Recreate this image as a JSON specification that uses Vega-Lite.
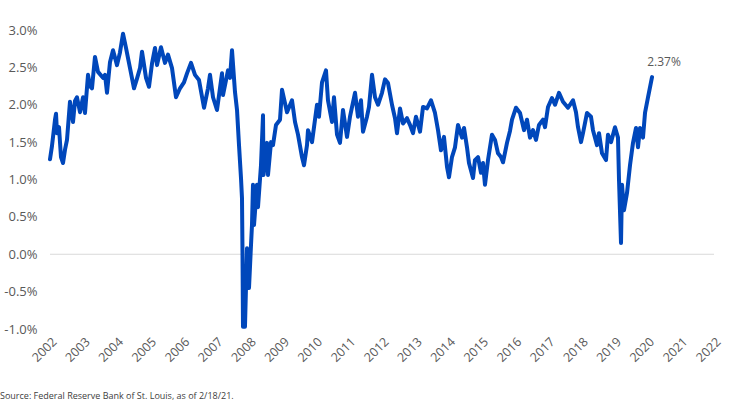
{
  "$schema": "https://vega.github.io/schema/vega-lite/v6.json",
  "autosize": {"type": "none"},
  "padding": {"left": 50, "top": 30, "right": 36, "bottom": 72},
  "width": 664,
  "height": 299,
  "background": "white",
  "config": {"view": {"stroke": null}, "font": "Open Sans", "axis": {"labelOverlap": false, "labelFlush": false, "labelBound": false}},
  "title": {
    "text": "Source: Federal Reserve Bank of St. Louis, as of 2/18/21.",
    "orient": "bottom",
    "anchor": "start",
    "frame": "group",
    "dx": -50,
    "offset": 28,
    "fontSize": 9,
    "fontWeight": "normal",
    "font": "Open Sans",
    "color": "#404040"
  },
  "datasets": {
    "series": [
      {"t": 2002.000, "v": 1.27}, {"t": 2002.060, "v": 1.45}, {"t": 2002.151, "v": 1.80}, {"t": 2002.181, "v": 1.88},
      {"t": 2002.211, "v": 1.62}, {"t": 2002.271, "v": 1.70}, {"t": 2002.331, "v": 1.30}, {"t": 2002.392, "v": 1.22},
      {"t": 2002.452, "v": 1.40}, {"t": 2002.512, "v": 1.53}, {"t": 2002.602, "v": 2.04}, {"t": 2002.693, "v": 1.77},
      {"t": 2002.753, "v": 2.05}, {"t": 2002.813, "v": 2.10}, {"t": 2002.904, "v": 1.90}, {"t": 2002.994, "v": 2.10},
      {"t": 2003.054, "v": 1.89}, {"t": 2003.145, "v": 2.40}, {"t": 2003.205, "v": 2.25}, {"t": 2003.265, "v": 2.22},
      {"t": 2003.355, "v": 2.64}, {"t": 2003.446, "v": 2.44}, {"t": 2003.596, "v": 2.36}, {"t": 2003.657, "v": 2.40},
      {"t": 2003.717, "v": 2.16}, {"t": 2003.807, "v": 2.57}, {"t": 2003.898, "v": 2.73}, {"t": 2004.018, "v": 2.53},
      {"t": 2004.108, "v": 2.70}, {"t": 2004.199, "v": 2.95}, {"t": 2004.289, "v": 2.76}, {"t": 2004.410, "v": 2.49},
      {"t": 2004.530, "v": 2.22}, {"t": 2004.620, "v": 2.35}, {"t": 2004.711, "v": 2.49}, {"t": 2004.771, "v": 2.71},
      {"t": 2004.892, "v": 2.36}, {"t": 2004.982, "v": 2.24}, {"t": 2005.072, "v": 2.55}, {"t": 2005.163, "v": 2.76},
      {"t": 2005.223, "v": 2.53}, {"t": 2005.343, "v": 2.77}, {"t": 2005.464, "v": 2.56}, {"t": 2005.554, "v": 2.67},
      {"t": 2005.675, "v": 2.49}, {"t": 2005.795, "v": 2.10}, {"t": 2005.916, "v": 2.22}, {"t": 2006.036, "v": 2.30},
      {"t": 2006.127, "v": 2.42}, {"t": 2006.247, "v": 2.56}, {"t": 2006.367, "v": 2.40}, {"t": 2006.488, "v": 2.33},
      {"t": 2006.639, "v": 1.96}, {"t": 2006.759, "v": 2.22}, {"t": 2006.819, "v": 2.40}, {"t": 2006.910, "v": 2.10},
      {"t": 2007.030, "v": 1.93}, {"t": 2007.181, "v": 2.42}, {"t": 2007.211, "v": 2.13}, {"t": 2007.361, "v": 2.46},
      {"t": 2007.422, "v": 2.36}, {"t": 2007.482, "v": 2.73}, {"t": 2007.572, "v": 2.17}, {"t": 2007.633, "v": 1.93},
      {"t": 2007.693, "v": 1.46}, {"t": 2007.753, "v": 1.02}, {"t": 2007.783, "v": 0.75}, {"t": 2007.798, "v": 0.03},
      {"t": 2007.813, "v": -0.97}, {"t": 2007.873, "v": -0.97}, {"t": 2007.934, "v": 0.08}, {"t": 2007.994, "v": -0.45},
      {"t": 2008.054, "v": 0.12}, {"t": 2008.084, "v": 0.39}, {"t": 2008.114, "v": 0.93}, {"t": 2008.145, "v": 0.39},
      {"t": 2008.235, "v": 0.93}, {"t": 2008.265, "v": 0.63}, {"t": 2008.355, "v": 1.19}, {"t": 2008.416, "v": 1.86},
      {"t": 2008.431, "v": 1.06}, {"t": 2008.536, "v": 1.49}, {"t": 2008.566, "v": 1.06}, {"t": 2008.657, "v": 1.50},
      {"t": 2008.717, "v": 1.46}, {"t": 2008.807, "v": 1.73}, {"t": 2008.928, "v": 1.80}, {"t": 2008.988, "v": 2.20},
      {"t": 2009.139, "v": 1.90}, {"t": 2009.289, "v": 2.06}, {"t": 2009.380, "v": 1.77}, {"t": 2009.470, "v": 1.60},
      {"t": 2009.590, "v": 1.30}, {"t": 2009.651, "v": 1.19}, {"t": 2009.741, "v": 1.46}, {"t": 2009.771, "v": 1.66},
      {"t": 2009.892, "v": 1.50}, {"t": 2010.042, "v": 2.00}, {"t": 2010.102, "v": 1.84}, {"t": 2010.193, "v": 2.30},
      {"t": 2010.313, "v": 2.46}, {"t": 2010.373, "v": 2.06}, {"t": 2010.494, "v": 1.77}, {"t": 2010.554, "v": 2.10},
      {"t": 2010.645, "v": 1.60}, {"t": 2010.735, "v": 1.49}, {"t": 2010.825, "v": 1.93}, {"t": 2010.946, "v": 1.57},
      {"t": 2011.036, "v": 1.84}, {"t": 2011.187, "v": 2.16}, {"t": 2011.277, "v": 1.84}, {"t": 2011.367, "v": 2.06},
      {"t": 2011.428, "v": 1.64}, {"t": 2011.548, "v": 1.84}, {"t": 2011.608, "v": 1.97}, {"t": 2011.699, "v": 2.40},
      {"t": 2011.789, "v": 2.10}, {"t": 2011.880, "v": 2.00}, {"t": 2012.000, "v": 2.16}, {"t": 2012.090, "v": 2.34},
      {"t": 2012.181, "v": 2.29}, {"t": 2012.301, "v": 2.00}, {"t": 2012.392, "v": 1.82}, {"t": 2012.452, "v": 1.62},
      {"t": 2012.542, "v": 1.95}, {"t": 2012.633, "v": 1.75}, {"t": 2012.753, "v": 1.82}, {"t": 2012.843, "v": 1.73},
      {"t": 2012.934, "v": 1.62}, {"t": 2013.024, "v": 1.84}, {"t": 2013.145, "v": 1.64}, {"t": 2013.235, "v": 1.97},
      {"t": 2013.355, "v": 1.95}, {"t": 2013.476, "v": 2.06}, {"t": 2013.596, "v": 1.89}, {"t": 2013.687, "v": 1.66},
      {"t": 2013.777, "v": 1.39}, {"t": 2013.867, "v": 1.57}, {"t": 2013.958, "v": 1.17}, {"t": 2014.018, "v": 1.03},
      {"t": 2014.108, "v": 1.30}, {"t": 2014.199, "v": 1.43}, {"t": 2014.289, "v": 1.73}, {"t": 2014.410, "v": 1.56},
      {"t": 2014.470, "v": 1.69}, {"t": 2014.560, "v": 1.43}, {"t": 2014.620, "v": 1.22}, {"t": 2014.741, "v": 1.02},
      {"t": 2014.801, "v": 1.26}, {"t": 2014.892, "v": 1.30}, {"t": 2014.982, "v": 1.09}, {"t": 2015.042, "v": 1.22},
      {"t": 2015.102, "v": 0.93}, {"t": 2015.193, "v": 1.26}, {"t": 2015.313, "v": 1.60}, {"t": 2015.404, "v": 1.53},
      {"t": 2015.494, "v": 1.35}, {"t": 2015.584, "v": 1.30}, {"t": 2015.645, "v": 1.23}, {"t": 2015.765, "v": 1.49},
      {"t": 2015.855, "v": 1.65}, {"t": 2015.916, "v": 1.80}, {"t": 2016.036, "v": 1.96}, {"t": 2016.157, "v": 1.89},
      {"t": 2016.277, "v": 1.66}, {"t": 2016.367, "v": 1.80}, {"t": 2016.458, "v": 1.56}, {"t": 2016.548, "v": 1.66},
      {"t": 2016.639, "v": 1.53}, {"t": 2016.729, "v": 1.73}, {"t": 2016.849, "v": 1.80}, {"t": 2016.910, "v": 1.70},
      {"t": 2017.000, "v": 1.97}, {"t": 2017.120, "v": 2.09}, {"t": 2017.211, "v": 2.00}, {"t": 2017.331, "v": 2.16},
      {"t": 2017.452, "v": 2.04}, {"t": 2017.602, "v": 1.96}, {"t": 2017.753, "v": 2.06}, {"t": 2017.843, "v": 1.90},
      {"t": 2017.904, "v": 1.70}, {"t": 2017.994, "v": 1.50}, {"t": 2018.054, "v": 1.62}, {"t": 2018.175, "v": 1.89},
      {"t": 2018.295, "v": 1.84}, {"t": 2018.355, "v": 1.66}, {"t": 2018.476, "v": 1.46}, {"t": 2018.536, "v": 1.62},
      {"t": 2018.627, "v": 1.35}, {"t": 2018.747, "v": 1.26}, {"t": 2018.807, "v": 1.60}, {"t": 2018.898, "v": 1.50},
      {"t": 2019.018, "v": 1.70}, {"t": 2019.108, "v": 1.56}, {"t": 2019.139, "v": 0.99}, {"t": 2019.199, "v": 0.15},
      {"t": 2019.229, "v": 0.93}, {"t": 2019.289, "v": 0.59}, {"t": 2019.380, "v": 0.82}, {"t": 2019.470, "v": 1.19},
      {"t": 2019.560, "v": 1.49}, {"t": 2019.651, "v": 1.69}, {"t": 2019.711, "v": 1.43}, {"t": 2019.771, "v": 1.69},
      {"t": 2019.861, "v": 1.56}, {"t": 2019.922, "v": 1.89}, {"t": 2020.012, "v": 2.10}, {"t": 2020.133, "v": 2.37}
    ],
    "zero": [{"v": 0}],
    "last": [{"t": 2020.133, "v": 2.37, "label": "2.37%"}]
  },
  "layer": [
    {
      "data": {"name": "zero"},
      "mark": {"type": "rule", "color": "#d9d9d9", "strokeWidth": 1},
      "encoding": {"y": {"field": "v", "type": "quantitative"}}
    },
    {
      "data": {"name": "series"},
      "mark": {"type": "line", "color": "#0047bb", "strokeWidth": 4, "strokeJoin": "round", "strokeCap": "round"},
      "encoding": {
        "x": {
          "field": "t", "type": "quantitative",
          "scale": {"domain": [2002, 2022], "nice": false, "zero": false},
          "axis": {
            "title": null, "values": [2002,2003,2004,2005,2006,2007,2008,2009,2010,2011,2012,2013,2014,2015,2016,2017,2018,2019,2020,2021,2022],
            "tickCount": 50,
            "format": "d", "labelAngle": -45, "labelAlign": "right", "labelBaseline": "top",
            "domain": false, "ticks": false, "grid": false, "labelPadding": 6,
            "labelFont": "Open Sans", "labelFontSize": 12.5, "labelColor": "#595959", "labelOverlap": false, "labelFlush": false, "labelBound": false
          }
        },
        "y": {
          "field": "v", "type": "quantitative",
          "scale": {"domain": [-1, 3], "nice": false},
          "axis": {
            "title": null, "values": [-1,-0.5,0,0.5,1,1.5,2,2.5,3],
            "tickCount": 50,
            "labelExpr": "replace(format(datum.value, '.1f'), '\u2212', '-') + '%'",
            "domain": false, "ticks": false, "grid": false, "labelPadding": 13,
            "labelFont": "Open Sans", "labelFontSize": 13, "labelColor": "#595959", "labelOverlap": false, "labelFlush": false, "labelBound": false
          }
        }
      }
    },
    {
      "data": {"name": "last"},
      "mark": {"type": "text", "font": "Open Sans", "fontSize": 12, "color": "#595959", "dx": 12, "dy": -15, "align": "center"},
      "encoding": {
        "x": {"field": "t", "type": "quantitative"},
        "y": {"field": "v", "type": "quantitative"},
        "text": {"field": "label"}
      }
    }
  ]
}
